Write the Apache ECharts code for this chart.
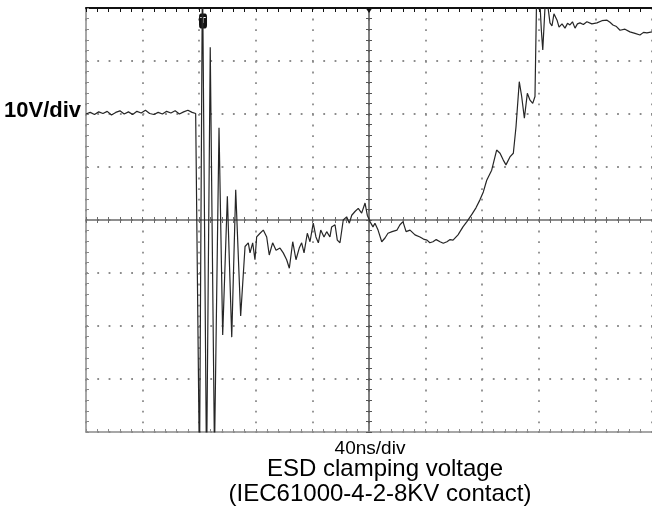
<!DOCTYPE html>
<html>
<head>
<meta charset="utf-8">
<script src="https://cdn.jsdelivr.net/npm/echarts@6/dist/echarts.min.js"></script>
<style>
html,body{margin:0;padding:0;background:#fff;}
#c{width:652px;height:516px;}
</style>
</head>
<body>
<div id="c"></div>
<script>
// ---- scale / labels ----
const xScaleLabel = '40ns/div';
const yScaleLabel = '10V/div';
const captionLine1 = 'ESD clamping voltage';
const captionLine2 = '(IEC61000-4-2-8KV contact)';
const timeRange = [0, 400];      // ns, 10 div x 40 ns
const voltRange = [-40, 40];     // V, 8 div x 10 V
const triggerTime = 82.7;        // ns (the "T" marker)

// ---- trace segments (time in ns, voltage in V) ----
const baselineT = [0, 3, 6, 9, 12, 15, 18, 21, 24, 27, 30, 33, 36, 39, 42, 45, 48, 51, 54, 57, 60, 63, 66, 69, 72, 75, 77.5, 78.4];
const baselineV = [20.0, 20.3, 19.9, 20.4, 20.1, 20.5, 19.8, 20.3, 20.6, 20.0, 20.4, 19.9, 20.5, 20.2, 20.7, 20.1, 19.9, 20.3, 20.0, 20.5, 20.2, 20.6, 20.0, 20.4, 20.7, 20.3, 20.1, 20.2];

const ringT = [80.2, 82.3, 85.2, 87.8, 90.8, 94.0, 96.6, 99.9, 103.0, 105.8, 109.3];
const ringV = [-48, 48, -48, 32.6, -44, 17.4, -21.7, 4.5, -22.1, 5.7, -18.1];

const settleT = [112.4, 114.7, 115.9, 117.8, 119.4, 120.6, 123.0, 125.3, 127.7, 129.5, 131.9, 134.3, 137.1, 139.4, 141.8, 143.7, 146.1, 148.4, 150.7, 152.4, 154.1, 156.4, 158.3, 160.6, 162.5, 164.2, 165.9, 168.2, 170.1, 172.4, 173.6, 176.0, 177.6, 179.5, 181.8, 184.2, 186.1, 187.8, 190.1, 192.4, 194.8, 197.2, 198.8];
const settleV = [-5.0, -4.3, -6.2, -4.3, -7.5, -3.2, -2.5, -1.9, -3.2, -6.6, -4.3, -5.7, -5.3, -6.2, -7.5, -9.1, -4.1, -7.5, -5.3, -4.3, -6.2, -2.5, -4.1, -0.6, -3.2, -4.3, -1.9, -3.2, -2.2, -3.2, -1.3, -0.9, -3.8, -4.3, 0.0, 0.6, -0.6, 0.9, 1.6, 2.2, 1.3, 3.2, 0.9];

const valleyT = [200.7, 202.8, 204.2, 206.4, 209.0, 211.3, 213.4, 216.3, 219.8, 221.9, 224.0, 226.2, 229.0, 232.5, 236.0, 238.5, 241.0, 243.0, 245.2, 247.5, 250.2, 252.5, 255.1, 257.3, 259.4, 262.9, 266.4, 269.2];
const valleyV = [-0.3, -1.3, -0.6, -1.9, -4.1, -3.4, -2.5, -2.2, -1.9, -0.9, -0.3, -2.2, -1.9, -2.8, -3.2, -3.6, -3.8, -4.3, -4.1, -3.7, -4.1, -4.4, -4.1, -3.7, -3.8, -2.8, -1.3, -0.3];

const riseT = [272.8, 275.6, 278.4, 280.8, 283.2, 286.7, 290.2, 292.6, 294.9, 296.8, 299.6, 302.0, 303.9, 306.2, 307.9, 309.8, 311.9, 313.8, 315.7, 317.3, 318.5, 320.4, 321.8, 322.8, 324.4, 326.2];
const riseV = [1.1, 2.3, 3.8, 5.3, 7.5, 9.4, 13.2, 12.6, 11.3, 10.4, 11.9, 12.6, 17.6, 26.1, 23.3, 19.2, 23.9, 22.6, 22.0, 23.3, 43, 43, 35.8, 32.1, 40.2, 40.8];

const plateauT = [327.9, 329.3, 330.7, 332.9, 334.3, 336.4, 338.5, 340.3, 342.0, 343.8, 345.6, 347.3, 349.1, 351.5, 354.0, 357.5, 361.1, 364.6, 368.2, 370.3, 372.4, 374.9, 377.4, 380.9, 384.4, 388.0, 391.5, 394.0, 396.4, 400];
const plateauV = [37.2, 36.6, 38.9, 37.7, 36.4, 37.0, 36.2, 37.1, 36.8, 37.4, 36.2, 37.0, 37.2, 36.9, 37.4, 37.0, 37.2, 37.6, 37.7, 37.3, 36.8, 36.5, 35.8, 36.0, 35.5, 35.2, 34.9, 35.4, 35.3, 35.5];

const segT = [baselineT, ringT, settleT, valleyT, riseT, plateauT];
const segV = [baselineV, ringV, settleV, valleyV, riseV, plateauV];
const trace = [];
segT.forEach((ts, i) => ts.forEach((t, j) => trace.push([t, segV[i][j]])));

// ---- axes helpers ----
const dotGray = '#8c8c8c';
function xAx(pos, offset, lineColor, lineWidth, tickLen, showSplit, showLine) {
  return {
    type: 'value', position: pos, offset: offset,
    min: timeRange[0], max: timeRange[1], interval: 40,
    axisLine: {show: showLine, onZero: false, lineStyle: {color: lineColor, width: lineWidth}},
    axisTick: {show: true, inside: true, length: tickLen, lineStyle: {color: lineColor, width: 1}},
    minorTick: {show: true, splitNumber: 5, length: tickLen, lineStyle: {color: lineColor, width: 1}},
    axisLabel: {show: false},
    splitLine: {show: showSplit, lineStyle: {color: dotGray, width: 1.8, type: [1.8, 8.8]}}
  };
}
function yAx(pos, offset, lineColor, lineWidth, tickLen, showSplit, showLine) {
  return {
    type: 'value', position: pos, offset: offset,
    min: voltRange[0], max: voltRange[1], interval: 10,
    axisLine: {show: showLine, onZero: false, lineStyle: {color: lineColor, width: lineWidth}},
    axisTick: {show: true, inside: true, length: tickLen, lineStyle: {color: lineColor, width: 1}},
    minorTick: {show: true, splitNumber: 5, length: tickLen, lineStyle: {color: lineColor, width: 1}},
    axisLabel: {show: false},
    splitLine: {show: showSplit, lineStyle: {color: dotGray, width: 1.8, type: [1.8, 9.5]}}
  };
}

const chart = echarts.init(document.getElementById('c'), null, {renderer: 'canvas'});
const gridLeft = 86, gridTop = 8, gridW = 566, gridH = 424;
chart.setOption({
  animation: false,
  backgroundColor: '#ffffff',
  grid: {left: gridLeft, top: gridTop, width: gridW, height: gridH, show: false},
  xAxis: [
    xAx('bottom', 0, '#8a8a8a', 1.5, 3, true, true),
    xAx('top', 0, '#111111', 2, 4, false, true),
    xAx('top', -gridH / 2, '#6a6a6a', 1.5, 3, false, true),
    xAx('bottom', -gridH / 2, '#6a6a6a', 1.5, 3, false, false)
  ],
  yAxis: [
    yAx('left', 0, '#8a8a8a', 1.5, 3, true, true),
    yAx('left', -gridW / 2, '#555555', 1.5, 3, false, true),
    yAx('right', -gridW / 2, '#555555', 1.5, 3, false, false)
  ],
  series: [{
    type: 'line',
    xAxisIndex: 0, yAxisIndex: 0,
    data: trace,
    showSymbol: false,
    symbol: 'none',
    clip: true,
    lineStyle: {color: '#262626', width: 1.2},
    z: 5,
    markPoint: {
      silent: true,
      data: [
        {coord: [triggerTime, voltRange[1]], symbol: 'roundRect', symbolSize: [8, 15], symbolOffset: [0, 13],
         itemStyle: {color: '#111'},
         label: {show: true, formatter: 'T', color: '#fff', fontSize: 9, fontWeight: 'bold', fontFamily: 'Liberation Sans, Arial'}},
        {coord: [(timeRange[0] + timeRange[1]) / 2, voltRange[1]], symbol: 'triangle', symbolRotate: 180, symbolSize: [8, 6], symbolOffset: [0, 2],
         itemStyle: {color: '#111'}, label: {show: false}}
      ]
    }
  }],
  graphic: [
    {type: 'text', left: 4, top: 100, style: {text: yScaleLabel, fontSize: 22, fontWeight: 'bold', fontFamily: 'Liberation Sans, Arial', fill: '#000'}},
    {type: 'text', x: 370, y: 448.5, style: {text: xScaleLabel, fontSize: 19, fontFamily: 'Liberation Sans, Arial', fill: '#000', textAlign: 'center', textVerticalAlign: 'middle'}},
    {type: 'text', x: 385, y: 469.5, style: {text: captionLine1, fontSize: 24, fontFamily: 'Liberation Sans, Arial', fill: '#000', textAlign: 'center', textVerticalAlign: 'middle'}},
    {type: 'text', x: 380, y: 494, style: {text: captionLine2, fontSize: 24, fontFamily: 'Liberation Sans, Arial', fill: '#000', textAlign: 'center', textVerticalAlign: 'middle'}}
  ]
});
</script>
</body>
</html>
